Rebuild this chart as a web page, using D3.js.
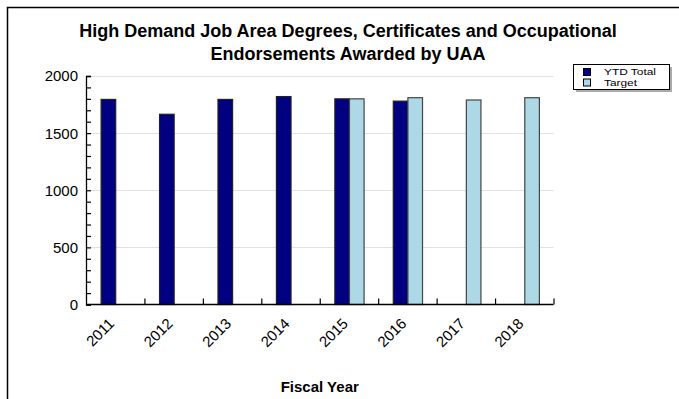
<!DOCTYPE html>
<html>
<head>
<meta charset="utf-8">
<script src="https://cdn.jsdelivr.net/npm/d3@7"></script>
<style>
  html, body { margin: 0; padding: 0; background: #fff; }
  svg { display: block; font-family: "Liberation Sans", Arial, sans-serif; }
</style>
</head>
<body>
<svg id="chart" width="679" height="399"></svg>
<script>
// Fiscal years shown on the x axis
const years = ["2011", "2012", "2013", "2014", "2015", "2016", "2017", "2018"];
// Year-to-date awards (no value yet for future years)
const ytdTotal = [1795, 1665, 1795, 1820, 1800, 1780, null, null];
// Target awards
const target = [null, null, null, null, 1800, 1810, 1790, 1810];
// Series names and y-axis ticks
const seriesNames = ["YTD Total", "Target"];
const yTicks = [0, 500, 1000, 1500, 2000];

const colors = { "YTD Total": "#000080", "Target": "#add8e6" };
const strokes = { "YTD Total": "#222", "Target": "#444" };

const svg = d3.select("#chart");
const margin = { left: 86, right: 679 - 553.5, top: 76, bottom: 399 - 304.5 };
const W = 679, H = 399;

// Outer frame (left and top edges)
svg.append("path")
  .attr("d", `M7.5,${H} V7.5 H${W}`)
  .attr("fill", "none")
  .attr("stroke", "#000")
  .attr("stroke-width", 1.5);

// Title
const title = svg.append("text")
  .attr("text-anchor", "middle")
  .attr("font-size", 18)
  .attr("font-weight", "bold")
  .attr("fill", "#000");
title.append("tspan").attr("x", 348).attr("y", 37)
  .text("High Demand Job Area Degrees, Certificates and Occupational");
title.append("tspan").attr("x", 348).attr("y", 60)
  .text("Endorsements Awarded by UAA");

const x = d3.scaleBand().domain(years)
  .range([margin.left, W - margin.right]).paddingInner(0).paddingOuter(0);
const xs = d3.scaleBand().domain(seriesNames)
  .range([0, x.bandwidth()]).paddingOuter(1).paddingInner(0);
const y = d3.scaleLinear().domain([0, 2000]).range([H - margin.bottom, margin.top]);

// Horizontal gridlines
svg.append("g")
  .selectAll("line")
  .data(yTicks.filter(d => d > 0))
  .join("line")
  .attr("x1", margin.left + 5).attr("x2", W - margin.right)
  .attr("y1", d => Math.round(y(d)) + 0.5).attr("y2", d => Math.round(y(d)) + 0.5)
  .attr("stroke", "#e2e2e2")
  .attr("stroke-width", 1);

// Bars
const rows = years.map((yr, i) => ({ year: yr, "YTD Total": ytdTotal[i], "Target": target[i] }));
const groups = svg.append("g").selectAll("g")
  .data(rows)
  .join("g")
  .attr("transform", d => `translate(${x(d.year)},0)`);
groups.selectAll("rect")
  .data(d => seriesNames.filter(s => d[s] != null).map(s => ({ key: s, value: d[s] })))
  .join("rect")
  .attr("x", d => xs(d.key) + 0.5)
  .attr("y", d => y(d.value))
  .attr("width", xs.bandwidth())
  .attr("height", d => y(0) - y(d.value))
  .attr("fill", d => colors[d.key])
  .attr("stroke", d => strokes[d.key])
  .attr("stroke-width", 1.2);

// Y axis with inward ticks and minor ticks every 100
const yAxis = svg.append("g")
  .attr("transform", `translate(${margin.left},0)`)
  .call(d3.axisLeft(y).tickValues(d3.range(0, 2001, 100)).tickSize(-5).tickFormat(""));
yAxis.select(".domain").attr("stroke", "#000").attr("stroke-width", 1.3);
yAxis.selectAll(".tick line").attr("stroke", "#000").attr("stroke-width", 1.2);

svg.append("g").selectAll("text")
  .data(yTicks)
  .join("text")
  .attr("x", 78)
  .attr("y", d => y(d))
  .attr("dy", "0.36em")
  .attr("text-anchor", "end")
  .attr("font-size", 15)
  .attr("fill", "#000")
  .text(d => d);

// X axis: upward ticks on category boundaries
const xb = d3.scaleLinear().domain([0, years.length]).range(x.range());
const xAxis = svg.append("g")
  .attr("transform", `translate(0,${y(0)})`)
  .call(d3.axisBottom(xb).tickValues(d3.range(1, years.length + 1)).tickSize(-6).tickFormat(""));
xAxis.select(".domain").attr("stroke", "#000").attr("stroke-width", 1.3)
  .attr("d", `M${x.range()[0]},0H${x.range()[1]}`);
xAxis.selectAll(".tick line").attr("stroke", "#000").attr("stroke-width", 1.2);

// Rotated year labels
svg.append("g").selectAll("text")
  .data(years)
  .join("text")
  .attr("transform", d => `translate(${x(d) + x.bandwidth() / 2},${y(0) + 20}) rotate(-45)`)
  .attr("text-anchor", "end")
  .attr("font-size", 15)
  .attr("fill", "#000")
  .text(d => d);

// X axis title
svg.append("text")
  .attr("x", (x.range()[0] + x.range()[1]) / 2)
  .attr("y", 392)
  .attr("text-anchor", "middle")
  .attr("font-size", 15)
  .attr("font-weight", "bold")
  .text("Fiscal Year");

// Legend with drop shadow
const lg = svg.append("g").attr("transform", "translate(573,64)");
lg.append("rect").attr("x", 3).attr("y", 3).attr("width", 96).attr("height", 25).attr("fill", "#aaa");
lg.append("rect").attr("x", 0.5).attr("y", 0.5).attr("width", 96).attr("height", 25)
  .attr("fill", "#fff").attr("stroke", "#000").attr("stroke-width", 1);
const labelWidths = { "YTD Total": 52, "Target": 33 };
const items = lg.selectAll("g.item")
  .data(seriesNames)
  .join("g")
  .attr("class", "item")
  .attr("transform", (d, i) => `translate(0,${4 + i * 10.5})`);
items.append("rect")
  .attr("x", 10.5).attr("y", 0.5).attr("width", 7).attr("height", 7)
  .attr("fill", d => colors[d]).attr("stroke", "#000").attr("stroke-width", 1);
items.append("text")
  .attr("x", 31).attr("y", 4).attr("dy", "0.35em")
  .attr("font-size", 9.5)
  .attr("textLength", d => labelWidths[d])
  .attr("lengthAdjust", "spacingAndGlyphs")
  .text(d => d);
</script>
</body>
</html>
